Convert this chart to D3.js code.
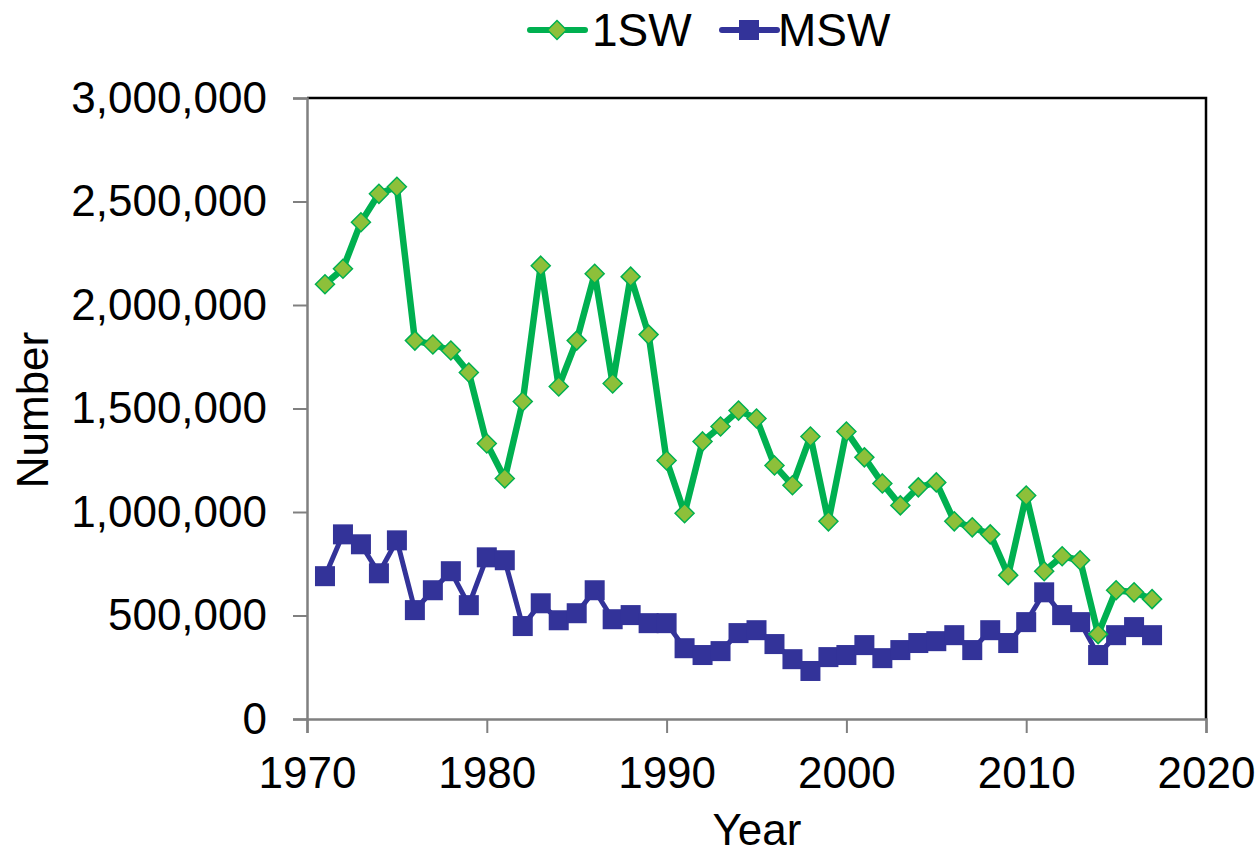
<!DOCTYPE html>
<html><head><meta charset="utf-8">
<script src="https://cdn.jsdelivr.net/npm/d3@7"></script>
<style>body{margin:0;background:#fff}svg{display:block}text{font-family:"Liberation Sans",Arial,sans-serif;fill:#000}</style>
</head><body>
<script>
const years = d3.range(1971, 2018);
const oneSW = [2100000,2175000,2400000,2537000,2571000,1828000,1809000,1780000,1674000,1331000,
1162000,1534000,2190000,1606000,1828000,2151000,1621000,2137000,1857000,1249000,
994000,1341000,1413000,1490000,1452000,1225000,1129000,1365000,955000,1389000,
1264000,1138000,1032000,1119000,1143000,955000,926000,892000,695000,1080000,
714000,786000,767000,410000,622000,612000,579000];
const MSW = [690000,892000,844000,704000,863000,526000,622000,714000,550000,781000,
767000,449000,559000,477000,511000,622000,482000,502000,463000,463000,
342000,309000,328000,415000,429000,362000,289000,232000,299000,309000,
357000,294000,333000,367000,376000,405000,333000,429000,367000,468000,
612000,502000,468000,309000,405000,444000,405000];
const yTicks = [0,500000,1000000,1500000,2000000,2500000,3000000];
const xTicks = [1970,1980,1990,2000,2010,2020];
const seriesNames = ["1SW","MSW"];

const W=1258,H=855, L=307, R=1206, T=98, B=719;
const svg=d3.select("body").append("svg").attr("width",W).attr("height",H);
const x=d3.scaleLinear().domain([1970,2020]).range([L,R]);
const y=d3.scaleLinear().domain([0,3000000]).range([B,T]);
const fmt=d3.format(",");

// frame top/right
svg.append("path").attr("d",`M${L},${T}H${R}V${B}`).attr("fill","none").attr("stroke","#000").attr("stroke-width",2.5);

const gy=svg.append("g").attr("transform",`translate(${L},0)`)
 .call(d3.axisLeft(y).tickValues(yTicks).tickFormat(fmt).tickSize(14).tickPadding(26));
const gx=svg.append("g").attr("transform",`translate(0,${B})`)
 .call(d3.axisBottom(x).tickValues(xTicks).tickFormat(d3.format("d")).tickSize(14).tickPadding(24));
[gy,gx].forEach(g=>{
 g.selectAll("path.domain").attr("stroke","#808080").attr("stroke-width",2.5);
 g.selectAll(".tick line").attr("stroke","#808080").attr("stroke-width",2);
 g.selectAll(".tick text").attr("font-size",44).attr("font-family","'Liberation Sans',Arial,sans-serif").attr("fill","#000");
});
gx.selectAll(".tick text").attr("dy","0.71em");

svg.append("text").attr("transform","translate(48,410) rotate(-90)").attr("text-anchor","middle").attr("font-size",44).text("Number");
svg.append("text").attr("x",757).attr("y",845).attr("text-anchor","middle").attr("font-size",44).text("Year");

const line=d3.line().x((d,i)=>x(years[i])).y(d=>y(d));
// MSW
svg.append("path").datum(MSW).attr("d",line).attr("fill","none").attr("stroke","#333399").attr("stroke-width",5);
svg.selectAll("rect.msw").data(MSW).join("rect").attr("class","msw")
 .attr("x",(d,i)=>x(years[i])-10).attr("y",d=>y(d)-10).attr("width",20).attr("height",20)
 .attr("fill","#333399");
// 1SW
svg.append("path").datum(oneSW).attr("d",line).attr("fill","none").attr("stroke","#00B050").attr("stroke-width",6.5).attr("stroke-linejoin","round");
const dia="M0,-9.5L9.5,0L0,9.5L-9.5,0Z";
svg.selectAll("path.sw1").data(oneSW).join("path").attr("class","sw1")
 .attr("transform",(d,i)=>`translate(${x(years[i])},${y(d)})`).attr("d",dia)
 .attr("fill","#8DC03A").attr("stroke","#00B050").attr("stroke-width",1.5);

// legend
const lg=svg.append("g");
lg.append("line").attr("x1",530).attr("x2",585).attr("y1",30).attr("y2",30).attr("stroke","#00B050").attr("stroke-width",6).attr("stroke-linecap","round");
lg.append("path").attr("d",dia).attr("transform","translate(557,30)").attr("fill","#8DC03A").attr("stroke","#00B050").attr("stroke-width",1.5);
lg.append("text").attr("x",592).attr("y",46).attr("font-size",46).text(seriesNames[0]);
lg.append("line").attr("x1",722).attr("x2",777).attr("y1",30).attr("y2",30).attr("stroke","#333399").attr("stroke-width",6).attr("stroke-linecap","round");
lg.append("rect").attr("x",739).attr("y",20).attr("width",20).attr("height",20).attr("fill","#333399");
lg.append("text").attr("x",778).attr("y",46).attr("font-size",46).text(seriesNames[1]);
</script>
</body></html>
